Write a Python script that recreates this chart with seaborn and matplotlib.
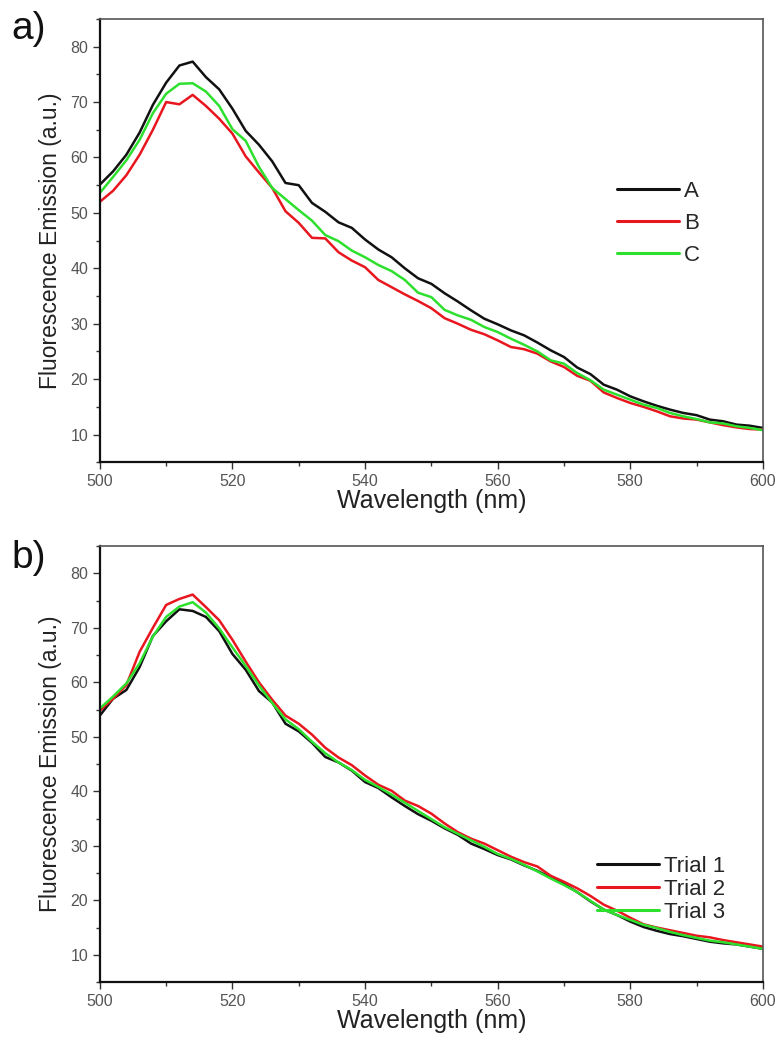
import numpy as np
import pandas as pd
import seaborn as sns
import matplotlib
matplotlib.use('Agg')
import matplotlib.pyplot as plt
from matplotlib.ticker import MultipleLocator

# длины волн, шаг 2 нм
wavelength = list(range(500, 601, 2))

# панель a) образцы A, B, C
sample_a = [55.1, 57.5, 60.5, 64.5, 69.5, 73.5, 76.6, 77.3, 74.5, 72.3,
            68.8, 64.8, 62.3, 59.3, 55.4, 55.0, 51.8, 50.2, 48.3, 47.3,
            45.2, 43.4, 42.0, 40.0, 38.2, 37.2, 35.5, 34.0, 32.4, 30.9,
            29.9, 28.8, 27.9, 26.6, 25.2, 24.0, 22.1, 20.9, 19.0, 18.1,
            16.9, 16.0, 15.2, 14.5, 13.9, 13.5, 12.7, 12.4, 11.8, 11.6, 11.2]
sample_b = [52.0, 54.0, 56.8, 60.5, 65.0, 70.0, 69.6, 71.3, 69.3, 67.0,
            64.3, 60.2, 57.3, 54.5, 50.3, 48.2, 45.5, 45.4, 42.9, 41.4,
            40.2, 37.9, 36.6, 35.3, 34.1, 32.8, 31.0, 30.0, 28.9, 28.1,
            27.0, 25.8, 25.4, 24.6, 23.2, 22.2, 20.6, 19.7, 17.6, 16.6,
            15.7, 15.0, 14.2, 13.3, 12.9, 12.7, 12.2, 11.7, 11.3, 11.0, 10.9]
sample_c = [53.6, 56.5, 59.5, 63.2, 68.0, 71.5, 73.3, 73.4, 71.9, 69.3,
            65.1, 63.0, 58.3, 54.5, 52.5, 50.5, 48.6, 46.0, 44.9, 43.2,
            42.0, 40.6, 39.5, 37.9, 35.6, 34.8, 32.5, 31.5, 30.7, 29.4,
            28.5, 27.3, 26.2, 25.0, 23.4, 22.8, 21.1, 19.8, 18.1, 17.2,
            16.3, 15.4, 14.8, 13.9, 13.3, 12.8, 12.2, 12.0, 11.5, 11.2, 10.8]

# панель b) повторы
trial_1 = [53.9, 57.0, 58.6, 62.8, 68.5, 71.2, 73.4, 73.1, 72.0, 69.4,
           65.2, 62.3, 58.4, 56.3, 52.4, 51.0, 48.9, 46.3, 45.3, 43.8,
           41.7, 40.6, 38.9, 37.3, 35.8, 34.6, 33.2, 32.0, 30.4, 29.4,
           28.3, 27.5, 26.4, 25.4, 24.2, 23.0, 21.5, 19.8, 18.3, 17.3,
           16.1, 15.1, 14.4, 13.8, 13.4, 12.9, 12.4, 12.1, 11.9, 11.5, 11.1]
trial_2 = [54.8, 57.0, 59.5, 65.6, 70.0, 74.2, 75.3, 76.1, 73.8, 71.4,
           67.8, 63.8, 60.0, 56.8, 53.9, 52.4, 50.4, 48.0, 46.2, 44.8,
           42.9, 41.2, 40.1, 38.3, 37.3, 35.9, 34.1, 32.5, 31.3, 30.4,
           29.2, 28.0, 27.0, 26.2, 24.5, 23.4, 22.2, 20.8, 19.2, 18.1,
           16.8, 15.6, 15.0, 14.5, 14.0, 13.5, 13.2, 12.7, 12.3, 11.9, 11.5]
trial_3 = [55.2, 57.4, 59.8, 63.5, 68.4, 72.0, 73.9, 74.7, 72.8, 69.9,
           66.4, 63.0, 59.4, 56.2, 53.2, 51.4, 49.1, 47.0, 45.3, 43.9,
           42.1, 40.8, 39.4, 37.9, 36.4, 34.9, 33.4, 32.2, 31.0, 29.8,
           28.5, 27.6, 26.5, 25.3, 24.0, 22.8, 21.5, 19.9, 18.3, 17.3,
           16.4, 15.5, 14.9, 14.2, 13.6, 13.1, 12.6, 12.3, 11.9, 11.5, 11.1]

labels_a = ['A', 'B', 'C']
labels_b = ['Trial 1', 'Trial 2', 'Trial 3']
colors = ['#111111', '#e8161e', '#2ee02e']

sns.set_style('ticks')
plt.rcParams['font.family'] = ['Liberation Sans', 'DejaVu Sans']


def to_long(series, names):
    frames = []
    for vals, name in zip(series, names):
        frames.append(pd.DataFrame({'wl': wavelength, 'val': vals, 'name': name}))
    return pd.concat(frames, ignore_index=True)


df_a = to_long([sample_a, sample_b, sample_c], labels_a)
df_b = to_long([trial_1, trial_2, trial_3], labels_b)

fig = plt.figure(figsize=(7.8, 10.53), dpi=100)
ax_a = fig.add_axes([0.128, 0.561, 0.850, 0.421])
ax_b = fig.add_axes([0.128, 0.0674, 0.850, 0.414])


def style_axes(ax, df, names, leg_anchor, spacing):
    sns.lineplot(data=df, x='wl', y='val', hue='name', hue_order=names,
                 palette=colors, linewidth=1.8, ax=ax)
    ax.set_xlim(500, 600)
    ax.set_ylim(5, 85)
    ax.xaxis.set_major_locator(MultipleLocator(20))
    ax.xaxis.set_minor_locator(MultipleLocator(10))
    ax.yaxis.set_major_locator(MultipleLocator(10))
    ax.yaxis.set_minor_locator(MultipleLocator(5))
    ax.set_yticks([10, 20, 30, 40, 50, 60, 70, 80])
    ax.tick_params(which='major', direction='out', length=5, width=1,
                   labelsize=11.5, labelcolor='#555555', color='#333333')
    ax.tick_params(which='minor', direction='out', length=3, width=1, color='#333333')
    for side in ['left', 'bottom']:
        ax.spines[side].set_linewidth(1.6)
        ax.spines[side].set_color('#111111')
    for side in ['top', 'right']:
        ax.spines[side].set_linewidth(1.2)
        ax.spines[side].set_color('#555555')
    ax.set_xlabel('Wavelength (nm)', fontsize=18, color='#222222', labelpad=0)
    ax.set_ylabel('Fluorescence Emission (a.u.)', fontsize=16.5, color='#222222', labelpad=6)
    leg = ax.legend(loc='upper left', bbox_to_anchor=leg_anchor, frameon=False,
                    fontsize=16, handlelength=2.8, handletextpad=0.2,
                    borderpad=0, borderaxespad=0, labelspacing=spacing)
    for line in leg.get_lines():
        line.set_linewidth(2.2)


style_axes(ax_a, df_a, labels_a, (0.78, 0.635), 0.5)
style_axes(ax_b, df_b, labels_b, (0.75, 0.29), 0.1)

fig.text(0.015, 0.99, 'a)', fontsize=28, va='top', ha='left', color='#111111')
fig.text(0.015, 0.487, 'b)', fontsize=28, va='top', ha='left', color='#111111')

fig.savefig('out.png', dpi=100)
